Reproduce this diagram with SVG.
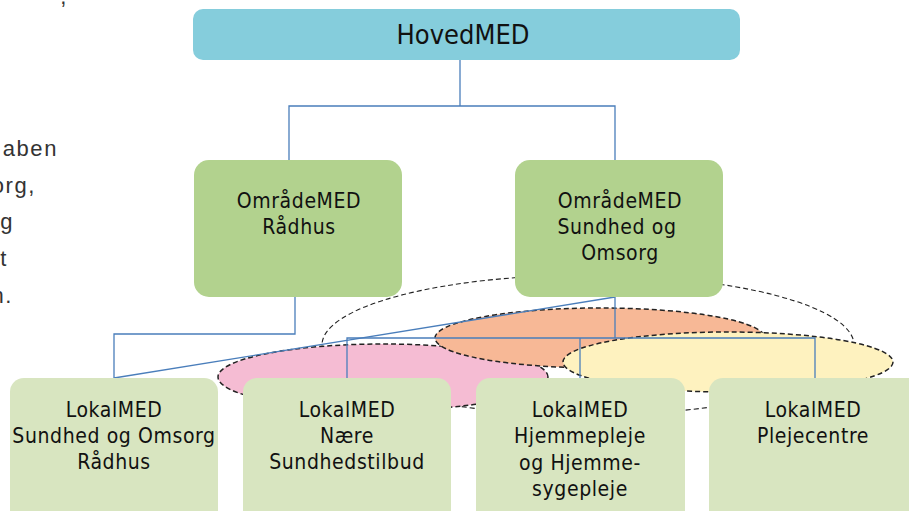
<svg xmlns="http://www.w3.org/2000/svg" width="909" height="511" viewBox="0 0 909 511">
  <style>
    .node-text { font-family: "Liberation Sans Narrow", "DejaVu Sans Condensed", "Liberation Sans", sans-serif; font-size: 21px; letter-spacing: 0.6px; fill: #111; text-anchor: middle; }
    .body-text { font-family: "Liberation Sans", Arial, sans-serif; font-size: 22px; fill: #333; text-anchor: end; letter-spacing: 1.6px; }
    .hoved { fill: #85CDDC; }
    .omraade { fill: #B2D28E; }
    .lokal { fill: #D8E5C0; }
    .conn { stroke: #4A7EBB; stroke-width: 1.3; fill: none; }
    .group-outline { stroke: #222; stroke-width: 1.1; stroke-dasharray: 5 3; }
    .cluster { stroke: #222; stroke-width: 1.5; stroke-dasharray: 5 3; }
  </style>

  <!-- running text at the left margin, cut off by the page edge -->
  <g id="margin-text">
    <text class="body-text" x="68" y="4">,</text>
    <text class="body-text" x="58" y="156">aben</text>
    <text class="body-text" x="36" y="193">org,</text>
    <text class="body-text" x="14" y="229">g</text>
    <text class="body-text" x="8" y="266">t</text>
    <text class="body-text" x="13" y="303">n.</text>
  </g>

  <!-- dashed groupings under Sundhed og Omsorg -->
  <g id="clusters">
    <ellipse class="group-outline" cx="588" cy="345" rx="266" ry="70" fill="none"/>
    <ellipse class="cluster" cx="383" cy="377" rx="165" ry="33" fill="#F5BCD3"/>
    <ellipse class="cluster" cx="600" cy="338" rx="165" ry="30" fill="#F7B896"/>
    <ellipse class="cluster" cx="728" cy="362" rx="165" ry="30" fill="#FEF2BF"/>
  </g>

  <g id="connectors">
    <polyline class="conn" points="460,60 460,106"/>
    <polyline class="conn" points="289,160 289,106 615,106 615,160"/>
    <polyline class="conn" points="295,297 295,334 114,334 114,378"/>
    <line class="conn" x1="615" y1="297" x2="114" y2="378"/>
    <polyline class="conn" points="615,297 615,338"/>
    <polyline class="conn" points="347,378 347,338 815,338 815,378"/>
    <polyline class="conn" points="580,338 580,378"/>
  </g>

  <g id="hovedmed">
    <rect class="hoved" x="193" y="9" width="547" height="51" rx="10"/>
    <text class="node-text" x="463" y="44" style="font-size:27px;letter-spacing:0px">HovedMED</text>
  </g>

  <g id="omraademed-raadhus">
    <rect class="omraade" x="194" y="160" width="208" height="137" rx="15"/>
    <text class="node-text" x="299" y="208">OmrådeMED</text>
    <text class="node-text" x="299" y="234">Rådhus</text>
  </g>

  <g id="omraademed-sundhed">
    <rect class="omraade" x="515" y="160" width="208" height="137" rx="15"/>
    <text class="node-text" x="620" y="208">OmrådeMED</text>
    <text class="node-text" x="617" y="234">Sundhed og</text>
    <text class="node-text" x="620" y="260">Omsorg</text>
  </g>

  <g id="lokalmed-raadhus">
    <rect class="lokal" x="10" y="378" width="208" height="150" rx="14"/>
    <text class="node-text" x="114" y="417">LokalMED</text>
    <text class="node-text" x="114" y="443">Sundhed og Omsorg</text>
    <text class="node-text" x="114" y="469">Rådhus</text>
  </g>

  <g id="lokalmed-naere">
    <rect class="lokal" x="243" y="378" width="208" height="150" rx="14"/>
    <text class="node-text" x="347" y="417">LokalMED</text>
    <text class="node-text" x="347" y="443">Nære</text>
    <text class="node-text" x="347" y="469">Sundhedstilbud</text>
  </g>

  <g id="lokalmed-hjemmepleje">
    <rect class="lokal" x="476" y="378" width="209" height="150" rx="14"/>
    <text class="node-text" x="580" y="417">LokalMED</text>
    <text class="node-text" x="580" y="443">Hjemmepleje</text>
    <text class="node-text" x="580" y="470">og Hjemme-</text>
    <text class="node-text" x="580" y="496">sygepleje</text>
  </g>

  <g id="lokalmed-plejecentre">
    <rect class="lokal" x="709" y="378" width="220" height="150" rx="14"/>
    <text class="node-text" x="813" y="417">LokalMED</text>
    <text class="node-text" x="813" y="443">Plejecentre</text>
  </g>
</svg>
